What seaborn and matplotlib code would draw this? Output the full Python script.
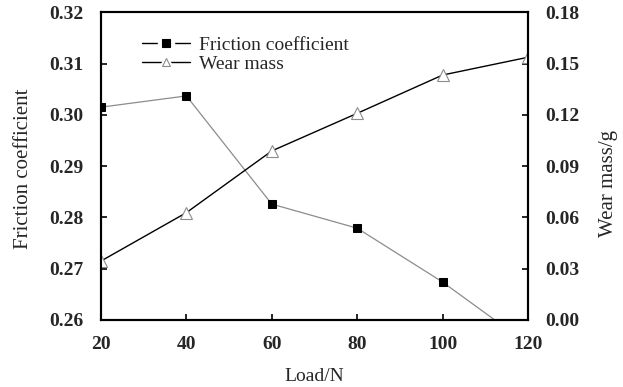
import matplotlib
matplotlib.use("Agg")
import matplotlib.pyplot as plt
import seaborn as sns
import pandas as pd
from matplotlib.lines import Line2D
from matplotlib.legend_handler import HandlerTuple

load = [20, 40, 60, 80, 100, 120]
friction = [0.3015, 0.3037, 0.2826, 0.2779, 0.2674, 0.2553]
wear_mass = [0.0345, 0.0628, 0.0989, 0.1209, 0.1433, 0.1537]
left_ticks = [0.26, 0.27, 0.28, 0.29, 0.30, 0.31, 0.32]
right_ticks = [0.00, 0.03, 0.06, 0.09, 0.12, 0.15, 0.18]
x_ticks = [20, 40, 60, 80, 100, 120]

sns.set_theme(style="white")
plt.rcParams['font.family'] = ['Liberation Serif', 'DejaVu Serif']

df = pd.DataFrame({"load": load, "friction": friction, "wear": wear_mass})

fig = plt.figure(figsize=(6.23, 3.87), dpi=100)
ax = fig.add_axes([101 / 623, 1 - 320 / 387, 427 / 623, 307.7 / 387])
ax2 = ax.twinx()

sns.lineplot(data=df, x="load", y="friction", ax=ax, color="#8c8c8c", linewidth=0.9,
             marker="s", markersize=6, markerfacecolor="black", markeredgecolor="black")
sns.lineplot(data=df, x="load", y="wear", ax=ax2, color="black", linewidth=1.0,
             marker="^", markersize=8, markerfacecolor="white", markeredgecolor="#8c8c8c",
             markeredgewidth=0.8)

for a in (ax, ax2):
    for s in a.spines.values():
        s.set_color("black")
        s.set_linewidth(1.5)

ax.set_xlim(20, 120)
ax.set_ylim(0.26, 0.32)
ax2.set_ylim(0.0, 0.18)
ax.set_xticks(x_ticks)
ax.set_xticklabels([str(v) for v in x_ticks], fontsize=14, fontweight="bold")
ax.set_yticks(left_ticks)
ax.set_yticklabels([f"{v:.2f}" for v in left_ticks], fontsize=14, fontweight="bold")
ax2.set_yticks(right_ticks)
ax2.set_yticklabels([f"{v:.2f}" for v in right_ticks], fontsize=14, fontweight="bold")

ax.tick_params(axis="y", direction="in", length=4, width=1.2, color="black", pad=12.5, left=True)
ax.tick_params(axis="x", direction="in", length=4, width=1.2, color="black", pad=11.5, bottom=True)
ax2.tick_params(axis="y", direction="in", length=4, width=1.2, color="black", pad=12.5, right=True)

ax.set_xlabel("Load/N", fontsize=14)
ax.set_ylabel("Friction coefficient", fontsize=15)
ax2.set_ylabel("Wear mass/g", fontsize=15)
ax.xaxis.set_label_coords(0.5, -0.156)
ax.yaxis.set_label_coords(-0.159, 0.49)
ax2.yaxis.set_label_coords(1.166, 0.442)

def handle(marker, face, edge, size):
    bg = Line2D([0], [0], color="black", linewidth=1.0, marker=marker, markersize=size + 5,
                markerfacecolor="white", markeredgecolor="white")
    fg = Line2D([0], [0], linestyle="none", marker=marker, markersize=size,
                markerfacecolor=face, markeredgecolor=edge, markeredgewidth=0.8)
    return (bg, fg)

handles = [handle("s", "black", "black", 6), handle("^", "white", "#8c8c8c", 6)]
ax2.legend(handles, ["Friction coefficient", "Wear mass"], loc="upper left",
           bbox_to_anchor=(0.055, 0.98), frameon=False, fontsize=14, handlelength=2.45,
           handletextpad=0.5, labelspacing=0.1,
           handler_map={tuple: HandlerTuple(ndivide=1, pad=0)})

fig.savefig("out.png", dpi=100)
